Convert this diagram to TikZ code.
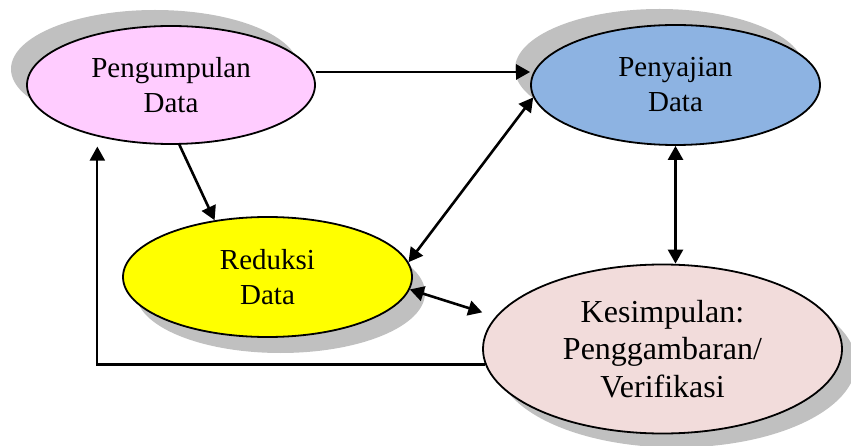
\documentclass[tikz,border=0pt]{standalone}
\usepackage{fontspec}
\setmainfont{Liberation Serif}
\usetikzlibrary{shapes.geometric,arrows.meta,shadows}
\definecolor{pengfill}{HTML}{FFCCFF}
\definecolor{penyfill}{HTML}{8DB3E2}
\definecolor{redfill}{HTML}{FFFF00}
\definecolor{kesfill}{HTML}{F2DCDB}
\definecolor{shadowgray}{HTML}{C0C0C0}
\begin{document}
\begin{tikzpicture}[x=1pt,y=-1pt,
  ell/.style={ellipse, draw=black, line width=1.8pt, inner sep=0pt, align=center,
    font=\fontsize{29}{35}\selectfont},
  shul/.style={drop shadow={shadow xshift=-16pt, shadow yshift=16pt, opacity=1, fill=shadowgray}},
  shdr/.style={drop shadow={shadow xshift=13pt, shadow yshift=-16pt, opacity=1, fill=shadowgray}},
  shdrk/.style={drop shadow={shadow xshift=14pt, shadow yshift=-14pt, opacity=1, fill=shadowgray}},
  arr/.style={-{Triangle[length=14pt,width=15pt]}, line width=2.6pt},
  darr/.style={{Triangle[length=14pt,width=15pt]}-{Triangle[length=14pt,width=15pt]}, line width=2.6pt},
  backarr/.style={-{Triangle[length=14pt,width=15pt]}, line width=2.2pt}
]
\useasboundingbox (0,0) rectangle (851,446);
\node[ell, fill=pengfill, shul, minimum width=288pt, minimum height=118pt] (peng) at (171,85) {Pengumpulan\\Data};
\node[ell, fill=penyfill, shul, minimum width=289pt, minimum height=120pt] (peny) at (675.5,85) {Penyajian\\Data};
\node[ell, fill=redfill, shdr, minimum width=289pt, minimum height=120pt] (red) at (267.5,277) {Reduksi\\Data};
\node[ell, fill=kesfill, shdrk, minimum width=359pt, minimum height=169pt,
  font=\fontsize{32}{37.5}\selectfont] (kes) at (662.5,349) {Kesimpulan:\\Penggambaran/\\Verifikasi};
\draw[arr, transform canvas={yshift=13pt}] (peng) -- (peny);
\draw[arr] (peng.-82) -- (red.133);
\draw[darr] (peny.185) -- (red.6);
\draw[darr] (peny.south) -- (peny.south |- kes.north);
\draw[darr, shorten >=14pt] (red.-5) -- (kes.169);
\draw[backarr, shorten >=10pt] (kes.185) -| (peng.-145);
\end{tikzpicture}
\end{document}
